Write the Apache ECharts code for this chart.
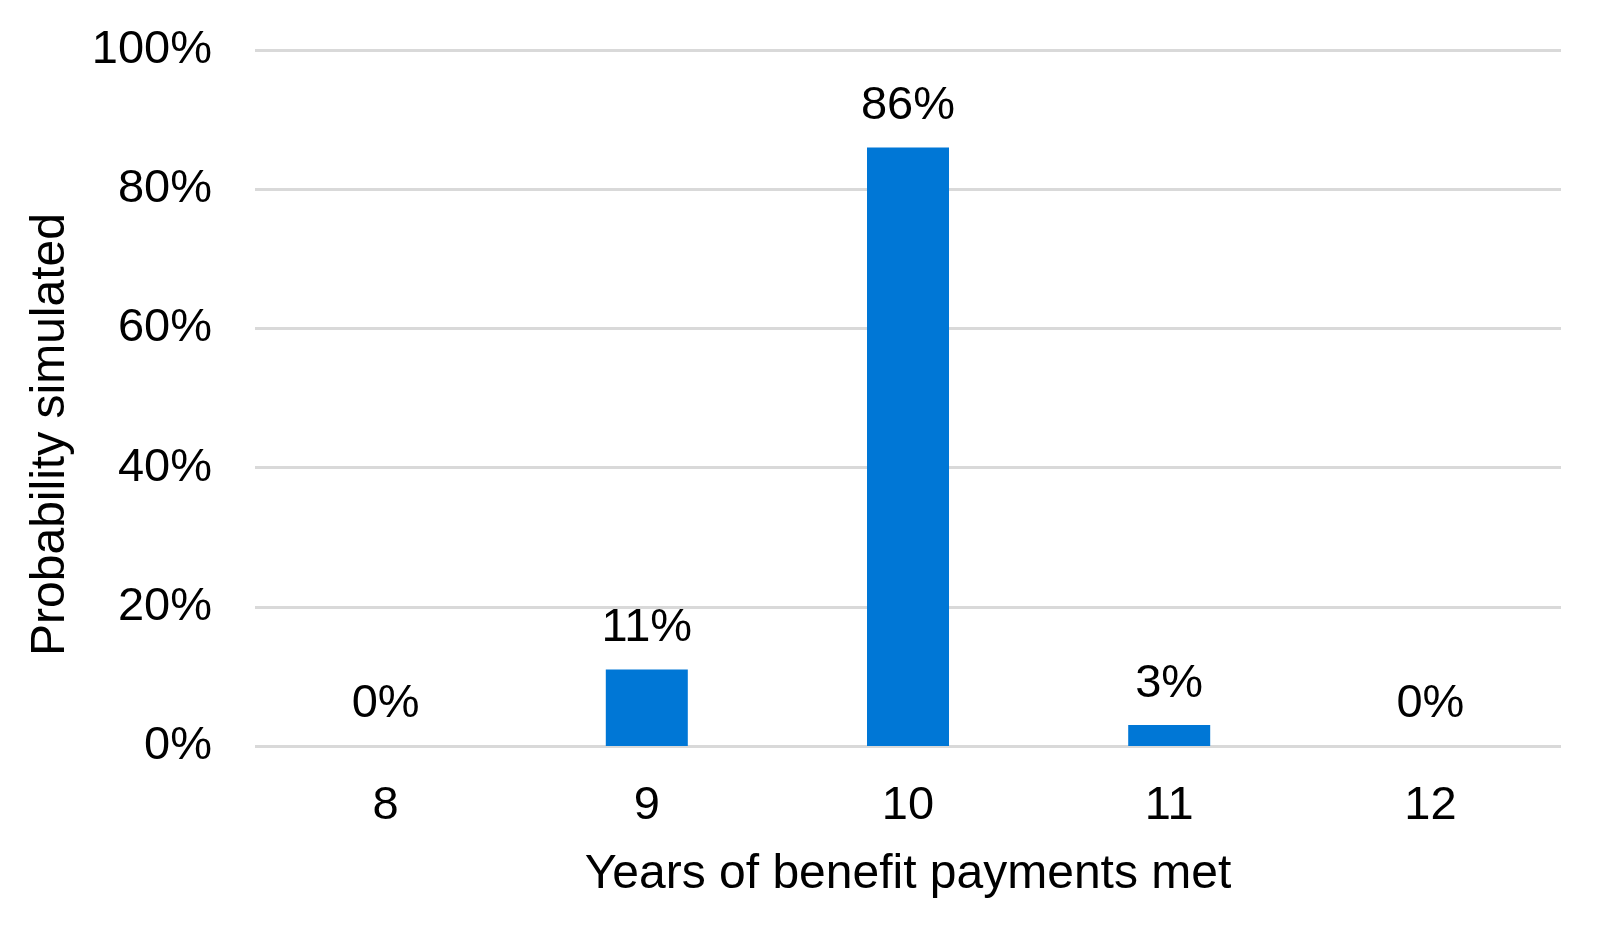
<!DOCTYPE html>
<html>
<head>
<meta charset="utf-8">
<script src="https://cdn.jsdelivr.net/npm/echarts@6/dist/echarts.min.js"></script>
<style>
  html, body { margin: 0; padding: 0; background: #fff; }
  #chart { width: 1611px; height: 936px; }
</style>
</head>
<body>
<div id="chart"></div>
<script>
// data
var years = ['8', '9', '10', '11', '12'];
var probability = [0, 11, 86, 3, 0];
var xTitle = 'Years of benefit payments met';
var yTitle = 'Probability simulated';

var font = 'Liberation Sans, Arial, sans-serif';

var chart = echarts.init(document.getElementById('chart'));

chart.setOption({
    animation: false,
    grid: { left: 255, right: 50, top: 50, bottom: 190 },
    xAxis: {
        type: 'category',
        data: years,
        name: xTitle,
        nameLocation: 'middle',
        nameGap: 105,
        nameTextStyle: { fontFamily: font, fontSize: 48, color: '#000' },
        axisLine: { show: false },
        axisTick: { show: false },
        axisLabel: { fontFamily: font, fontSize: 47, color: '#000', margin: 37 }
    },
    yAxis: {
        type: 'value',
        min: 0,
        max: 100,
        interval: 20,
        name: yTitle,
        nameLocation: 'middle',
        nameGap: 180,
        nameTextStyle: { fontFamily: font, fontSize: 48, color: '#000', padding: [0, 73, 0, 0] },
        axisLabel: { fontFamily: font, fontSize: 47, color: '#000', margin: 43, formatter: '{value}%' },
        splitLine: { lineStyle: { color: '#d9d9d9', width: 3 } }
    },
    series: [{
        type: 'bar',
        data: probability,
        barWidth: 82,
        itemStyle: { color: '#0077d6' },
        label: {
            show: true,
            position: 'top',
            distance: 18,
            formatter: '{c}%',
            fontFamily: font,
            fontSize: 47,
            color: '#000'
        }
    }]
});
</script>
</body>
</html>
